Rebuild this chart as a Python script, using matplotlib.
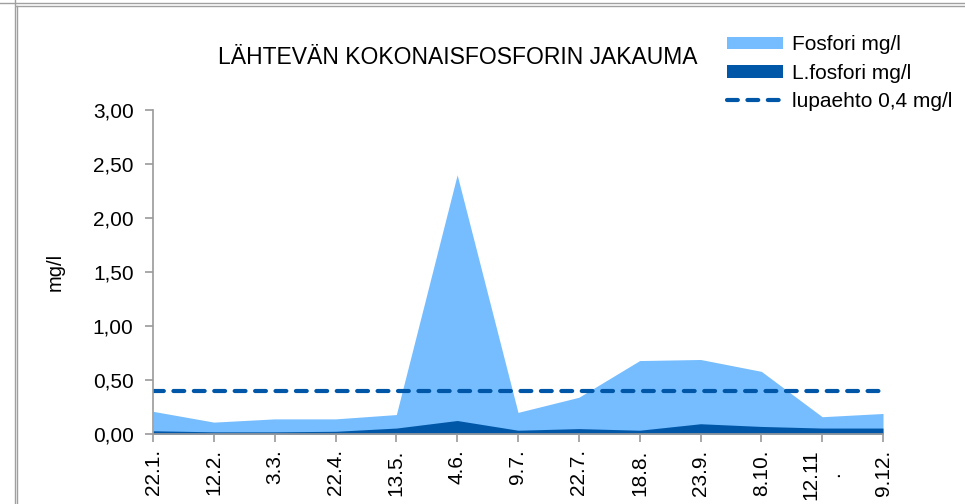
import matplotlib
matplotlib.use("Agg")
import matplotlib.pyplot as plt
from matplotlib.patches import Patch
from matplotlib.lines import Line2D
from matplotlib.ticker import FuncFormatter

dates = ["22.1.", "12.2.", "3.3.", "22.4.", "13.5.", "4.6.", "9.7.", "22.7.",
         "18.8.", "23.9.", "8.10.", "12.11\n.", "9.12."]
fosfori = [0.21, 0.11, 0.14, 0.14, 0.18, 2.40, 0.20, 0.34, 0.68, 0.69, 0.58, 0.16, 0.19]
l_fosfori = [0.03, 0.02, 0.02, 0.025, 0.055, 0.125, 0.035, 0.05, 0.035, 0.095, 0.07, 0.055, 0.055]
lupaehto = 0.4

plt.rcParams['font.family'] = ['Liberation Sans', 'DejaVu Sans']

LIGHT = "#75bdff"
DARK = "#0057a8"

fig = plt.figure(figsize=(9.65, 5.04), dpi=100)
ax = fig.add_axes([153/965, 1-434/504, (883-153)/965, (434-110)/504])

x = list(range(len(dates)))
ax.fill_between(x, 0, fosfori, color=LIGHT, lw=0)
ax.fill_between(x, 0, l_fosfori, color=DARK, lw=0)
ax.plot([x[0], x[-1]], [lupaehto, lupaehto], color=DARK, lw=3.0, dashes=(2.6, 2.3),
        dash_capstyle='round')

ax.set_xlim(0, len(dates) - 1)
ax.set_ylim(0, 3)
ax.set_yticks([0, 0.5, 1, 1.5, 2, 2.5, 3])
ax.yaxis.set_major_formatter(FuncFormatter(lambda v, p: f"{v:.2f}".replace(".", ",")))
ax.set_xticks(x)
ax.set_xticklabels(dates, rotation=90, multialignment='center')
for s in ["top", "right"]:
    ax.spines[s].set_visible(False)
for s in ["left", "bottom"]:
    ax.spines[s].set_color("#9a9a9a")
    ax.spines[s].set_linewidth(1.2)
ax.tick_params(axis='both', colors="#9a9a9a", labelcolor="black", length=6, width=1.2,
               labelsize=15)
ax.tick_params(axis='y', pad=8)
ax.tick_params(axis='x', pad=5)
ax.set_ylabel("mg/l", fontsize=14.5)
ax.yaxis.set_label_coords(-88/730, 0.5)

fig.text(458/965, 1-57/504, "LÄHTEVÄN KOKONAISFOSFORIN JAKAUMA", ha='center', va='center',
         fontsize=16.5)

handles = [Patch(color=LIGHT, lw=0), Patch(color=DARK, lw=0),
           Line2D([], [], color=DARK, lw=3.0, dashes=(2.6, 2.3), dash_capstyle='round')]
labels = ["Fosfori mg/l", "L.fosfori mg/l", "lupaehto 0,4 mg/l"]
fig.legend(handles, labels, loc='upper left', bbox_to_anchor=(719/965, 1-27/504),
           frameon=False, fontsize=15, handlelength=2.65, handleheight=0.55,
           labelspacing=0.45, handletextpad=0.45, borderaxespad=0)

# spreadsheet cell borders
fig.add_artist(Line2D([0, 1], [1-3/504, 1-3/504], color="#a0a0a0", lw=1, transform=fig.transFigure))
fig.add_artist(Line2D([16/965, 1], [1-6/504, 1-6/504], color="#a0a0a0", lw=1, transform=fig.transFigure))
fig.add_artist(Line2D([15/965, 15/965], [0, 1], color="#a0a0a0", lw=1, transform=fig.transFigure))
fig.add_artist(Line2D([17/965, 17/965], [0, 1-6/504], color="#a0a0a0", lw=1, transform=fig.transFigure))

fig.savefig("out.png", dpi=100)
